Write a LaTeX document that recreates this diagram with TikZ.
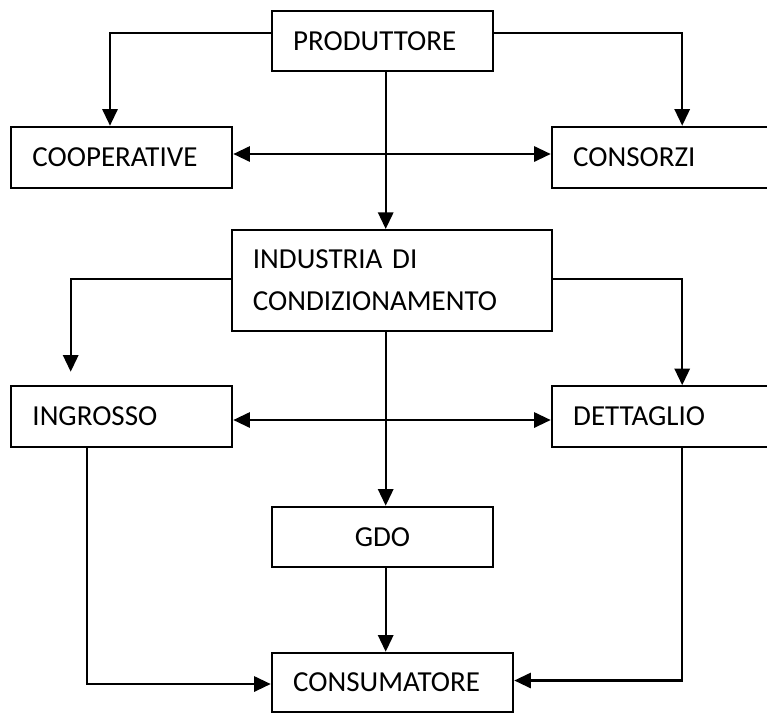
\documentclass[tikz,border=0pt]{standalone}
\usepackage{fontspec}
\setmainfont{Carlito}
\usetikzlibrary{arrows.meta}

\newcommand{\boxfont}{\fontsize{21.75pt}{31.3pt}\selectfont}

\tikzset{
  box/.style={draw, rectangle, line width=1.5pt, inner xsep=16pt, inner ysep=0pt,
              align=left, font=\boxfont},
  link/.style={line width=1.6pt, -{Triangle[length=12.5pt,width=11.5pt]}},
  both/.style={line width=1.6pt,
               {Triangle[length=12.5pt,width=11.5pt]}-{Triangle[length=12.5pt,width=11.5pt]}},
}

\begin{document}
\begin{tikzpicture}[x=0.75pt, y=-0.75pt]
  \useasboundingbox (0,0) rectangle (767,715);

  % boxes
  \node[box, minimum width=166.2pt, minimum height=45.2pt, text width=134pt]
    (prod) at (382.5,40.85) {PRODUTTORE};
  \node[box, minimum width=166pt, minimum height=45.75pt, text width=133.8pt]
    (coop) at (121.65,157.2) {COOPERATIVE};
  \node[box, minimum width=165.75pt, minimum height=45.75pt, text width=133.5pt]
    (cons) at (662.2,157.2) {CONSORZI};
  \node[box, minimum width=240.15pt, minimum height=75.4pt, text width=208pt]
    (indu) at (391.6,280.25) {INDUSTRIA DI\\CONDIZIONAMENTO};
  \node[box, minimum width=166pt, minimum height=45.5pt, text width=133.8pt]
    (ingr) at (121.65,416.35) {INGROSSO};
  \node[box, minimum width=165.75pt, minimum height=45.5pt, text width=133.5pt]
    (dett) at (662.2,416.5) {DETTAGLIO};
  \node[box, align=center, minimum width=166.2pt, minimum height=45.45pt, text width=134pt]
    (gdo) at (382.5,537) {GDO};
  \node[box, minimum width=181.2pt, minimum height=44.7pt, text width=149pt]
    (cnsm) at (392.5,682.5) {CONSUMATORE};

  % guide levels and columns for the connectors
  \coordinate (yP) at (0,32.7);
  \coordinate (yC) at (0,154);
  \coordinate (yI) at (0,279);
  \coordinate (yG) at (0,420);
  \coordinate (yL) at (0,684);
  \coordinate (yR) at (0,680.5);
  \coordinate (xM) at (385.7,0);
  \coordinate (xA) at (110,0);
  \coordinate (xB) at (682.2,0);
  \coordinate (xD) at (86.6,0);
  \coordinate (tipL) at (70.7,371.7);

  % connectors
  \draw[link] (prod.west |- yP) -| (coop.north -| xA);
  \draw[link] (prod.east |- yP) -| (cons.north -| xB);
  \draw[link] (prod.south -| xM) -- (indu.north -| xM);
  \draw[both] (coop.east |- yC) -- (cons.west |- yC);

  \draw[link] (indu.west |- yI) -| (tipL);
  \draw[link] (indu.east |- yI) -| (dett.north -| xB);
  \draw[link] (indu.south -| xM) -- (gdo.north -| xM);
  \draw[both] (ingr.east |- yG) -- (dett.west |- yG);

  \draw[link] (gdo.south -| xM) -- (cnsm.north -| xM);
  \draw[link] (ingr.south -| xD) |- (cnsm.west |- yL);
  \draw[link] (dett.south -| xB) |- (cnsm.east |- yR);
\end{tikzpicture}
\end{document}
